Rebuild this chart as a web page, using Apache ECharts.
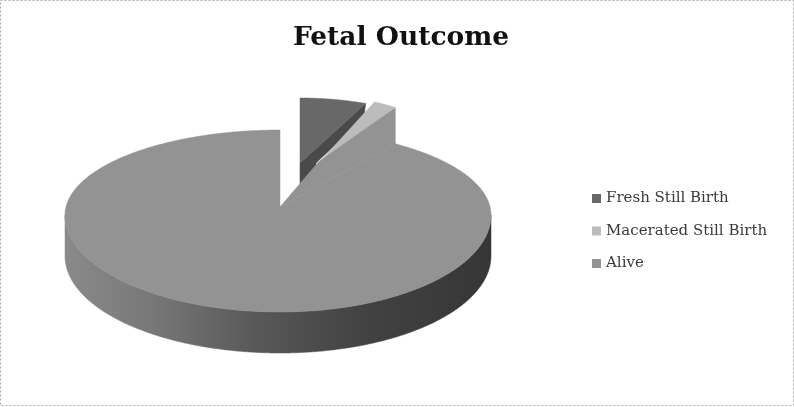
<!DOCTYPE html>
<html>
<head>
<meta charset="utf-8">
<script src="https://cdn.jsdelivr.net/npm/echarts@6/dist/echarts.min.js"></script>
<style>
html,body{margin:0;padding:0;background:#fff}
#c{width:794px;height:407px;filter:blur(0.5px)}
</style>
</head>
<body>
<div id="c"></div>
<script>
const categories = ['Fresh Still Birth', 'Macerated Still Birth', 'Alive'];
const values = [6.6, 2.6, 90.8];
const colors = ['#686868', '#bcbcbc', '#939393'];

const total = values.reduce((a, b) => a + b, 0);
const geometry = [
  { ax: 300, ay: 163, rxL: 163, rxR: 163, ryT: 65, ryB: 65, ey: 163 },
  { ax: 316, ay: 166, rxL: 145, rxR: 145, ryT: 70, ryB: 70, ey: 166 },
  { ax: 280, ay: 207, cx: 280, rxL: 215, rxR: 211, ryT: 85, ryB: 97, ey: 215 }
];
const DEPTH = 41, CUT_WALL = 35;

function rim(g, t) {
  const s = Math.sin(t), c = Math.cos(t);
  const cx = g.cx === undefined ? g.ax : g.cx;
  return [cx + (s > 0 ? g.rxR : g.rxL) * s, g.ey - (c > 0 ? g.ryT : g.ryB) * c];
}
function arc(g, a0, a1) {
  const n = Math.max(2, Math.ceil((a1 - a0) / 0.01)), pts = [];
  for (let i = 0; i <= n; i++) pts.push(rim(g, a0 + (a1 - a0) * i / n));
  return pts;
}

let acc = 0;
const spans = values.map(v => {
  const a0 = acc / total * 2 * Math.PI;
  acc += v;
  return [a0, acc / total * 2 * Math.PI];
});

function renderSlice(i) {
  return function (params, api) {
    const g = geometry[i], v = api.value(0);
    const a0 = spans[i][0], a1 = a0 + v / total * 2 * Math.PI;
    const apex = [g.ax, g.ay], pts = arc(g, a0, a1);
    const kids = [];
    const poly = (points, fill) => kids.push({
      type: 'polygon', shape: { points }, style: { fill, stroke: fill, lineWidth: 0.5 }
    });
    if (i === 0) {
      const e = pts[pts.length - 1];
      poly([e, [e[0] - 2, e[1] + 15], [apex[0] + 16, apex[1]], [apex[0] + 16, apex[1] + 15], [apex[0], apex[1] + 28], apex], '#4a4a4a');
    }
    if (i === 2) {
      const outer = arc(g, Math.PI / 2, 3 * Math.PI / 2);
      const lower = outer.map(p => [p[0], p[1] + DEPTH]).reverse();
      poly(outer.concat(lower), new echarts.graphic.LinearGradient(0, 0, 1, 0, [
        { offset: 0, color: '#8a8a8a' },
        { offset: 0.2, color: '#787878' },
        { offset: 0.45, color: '#585858' },
        { offset: 0.7, color: '#424242' },
        { offset: 1, color: '#363636' }
      ]));
      const s = pts[0], top = [s[0], s[1] - CUT_WALL - 1];
      const bend = [apex[0] + (top[0] - apex[0]) / 3, apex[1] + (top[1] - apex[1]) / 3 - 12];
      poly([apex, bend, top, s], colors[2]);
    }
    poly([apex].concat(pts), colors[i]);
    return { type: 'group', children: kids };
  };
}

const chart = echarts.init(document.getElementById('c'), null, { renderer: 'canvas' });
chart.setOption({
  animation: false,
  backgroundColor: '#fff',
  title: {
    text: 'Fetal Outcome', left: 396, top: 20, textAlign: 'center',
    textStyle: { fontFamily: 'DejaVu Serif', fontWeight: 'bold', fontSize: 26.5, color: '#111' }
  },
  legend: {
    orient: 'vertical', left: 587, top: 186, itemWidth: 9, itemHeight: 9, itemGap: 17.5, icon: 'rect',
    data: categories, selectedMode: false,
    textStyle: { fontFamily: 'DejaVu Serif', fontSize: 15, color: '#3a3a3a' }
  },
  graphic: [{
    type: 'rect', silent: true, z: -1,
    shape: { x: 0.5, y: 0.5, width: 793, height: 405 },
    style: { fill: 'none', stroke: '#aaa', lineWidth: 1, lineDash: [2, 2] }
  }],
  series: categories.map((name, i) => ({
    type: 'custom', name, coordinateSystem: 'none',
    itemStyle: { color: colors[i] },
    renderItem: renderSlice(i),
    data: [[values[i]]]
  }))
});
</script>
</body>
</html>
